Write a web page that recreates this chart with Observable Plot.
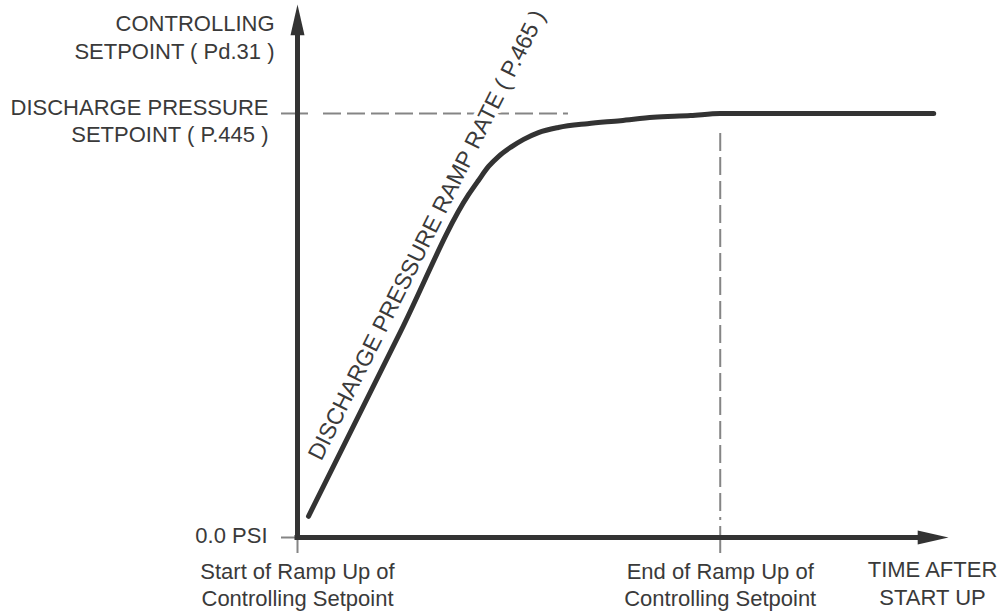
<!DOCTYPE html>
<html>
<head>
<meta charset="utf-8">
<script src="https://cdn.jsdelivr.net/npm/d3@7"></script>
<script src="https://cdn.jsdelivr.net/npm/@observablehq/plot@0.6"></script>
<style>
  html, body { margin: 0; padding: 0; background: #fff; }
  #chart { width: 1000px; height: 611px; }
</style>
</head>
<body>
<div id="chart"></div>
<script>
// ---- data (time units: 0 = start of ramp, 100 = end of ramp; pressure: 100 = setpoint) ----
const rampTime = [2.6, 24.4, 40.5, 42.8, 45.2, 47.6, 50.4, 53.5, 57.0, 61.7, 68.6, 76.4, 84.2, 93.0, 100, 150.5];
const rampPressure = [5.0, 48.6, 80.9, 84.2, 87.5, 89.9, 92.0, 93.9, 95.5, 96.7, 97.6, 98.3, 99.1, 99.5, 100, 100];

const xTickValues = [0, 100];
const xTickLabels = ["Start of Ramp Up of\nControlling Setpoint", "End of Ramp Up of\nControlling Setpoint"];
const yTickValues = [0, 100];
const yTickLabels = ["0.0 PSI", "DISCHARGE PRESSURE\nSETPOINT ( P.445 )"];
const yAxisTitle = "CONTROLLING\nSETPOINT ( Pd.31 )";
const xAxisTitle = "TIME AFTER\nSTART UP";
const rampLabel = "DISCHARGE PRESSURE RAMP RATE ( P.465 )";

const xMax = 154;          // end of time axis (arrow tip)
const yMax = 125.7;        // top of pressure axis (arrow tip)
const setpointGuideEnd = 64.1; // time where the dashed setpoint guide stops
const rampLabelPos = [{t: 30.6, p: 71.3}];
const yTitlePos = [{t: 0, p: 118.2}];

// ---- build ----
const curve = rampTime.map((t, i) => ({t, p: rampPressure[i]}));

const arrowHead = {
  draw(ctx, size) {
    const r = Math.sqrt(size / Math.PI);
    ctx.moveTo(0, 0);
    ctx.lineTo(r * 0.5, r * 2.2);
    ctx.lineTo(-r * 0.5, r * 2.2);
    ctx.closePath();
  }
};

const dark = "#333";
const gray = "#858585";
const textColor = "#3a3a3a";
const font = 22;

const chart = Plot.plot({
  width: 1000,
  height: 611,
  marginLeft: 297,
  marginRight: 52,
  marginTop: 4,
  marginBottom: 74,
  x: {domain: [0, xMax], axis: null},
  y: {domain: [0, yMax], axis: null},
  style: {fontFamily: "'Liberation Sans', Arial, Helvetica, sans-serif", fontSize: font + "px", background: "#fff", overflow: "visible"},
  marks: [
    // guides
    Plot.ruleY([100], {x1: 0, x2: setpointGuideEnd, insetLeft: 26, stroke: gray, strokeWidth: 2, strokeDasharray: "18,6"}),
    Plot.ruleX([100], {y1: 100, y2: 0, insetTop: 20, insetBottom: 17, stroke: gray, strokeWidth: 2, strokeDasharray: "18,6"}),
    // ticks
    Plot.ruleY(yTickValues, {x1: 0, x2: 0, insetLeft: -16, insetRight: -11, stroke: gray, strokeWidth: 2}),
    Plot.ruleX(xTickValues, {y1: 0, y2: 0, insetTop: -11, insetBottom: -16, stroke: gray, strokeWidth: 2}),
    // rotated ramp label with halo
    Plot.text(rampLabelPos, {x: "t", y: "p", text: () => rampLabel, rotate: -63.3, fill: textColor, stroke: "white", strokeWidth: 8, fontSize: 23, textAnchor: "middle", lineAnchor: "middle"}),
    // ramp curve
    Plot.line(curve, {x: "t", y: "p", curve: "monotone-x", stroke: dark, strokeWidth: 5, strokeLinejoin: "round"}),
    // axis lines
    Plot.ruleX([0], {y1: yMax, y2: 0, insetTop: 20, insetBottom: -2.5, stroke: dark, strokeWidth: 5}),
    Plot.ruleY([0], {x1: 0, x2: xMax, insetLeft: -2.5, insetRight: 20, stroke: dark, strokeWidth: 5}),
    // arrow heads
    Plot.dot([{t: 0, p: yMax}], {x: "t", y: "p", symbol: arrowHead, r: 14, fill: dark, stroke: "none"}),
    Plot.dot([{t: xMax, p: 0}], {x: "t", y: "p", symbol: arrowHead, r: 14, rotate: 90, fill: dark, stroke: "none"}),
    // y labels
    Plot.text([yTickValues[0]], {x: 0, y: d => d, text: () => yTickLabels[0], textAnchor: "end", dx: -30, dy: -2, fill: textColor, fontSize: font}),
    Plot.text([yTickValues[1]], {x: 0, y: d => d, text: () => yTickLabels[1], textAnchor: "end", dx: -29, dy: 6.5, lineHeight: 1.23, fill: textColor, fontSize: font}),
    Plot.text(yTitlePos, {x: "t", y: "p", text: () => yAxisTitle, textAnchor: "end", dx: -23, lineHeight: 1.27, fill: textColor, fontSize: font}),
    // x labels
    Plot.text(xTickValues, {x: d => d, y: 0, text: (d, i) => xTickLabels[i], textAnchor: "middle", dy: 46.5, lineHeight: 1.23, fill: textColor, fontSize: font}),
    Plot.text([xMax], {x: d => d, y: 0, text: () => xAxisTitle, textAnchor: "middle", dx: -16, dy: 45, lineHeight: 1.27, fill: textColor, fontSize: font})
  ]
});

document.getElementById("chart").appendChild(chart);
</script>
</body>
</html>
